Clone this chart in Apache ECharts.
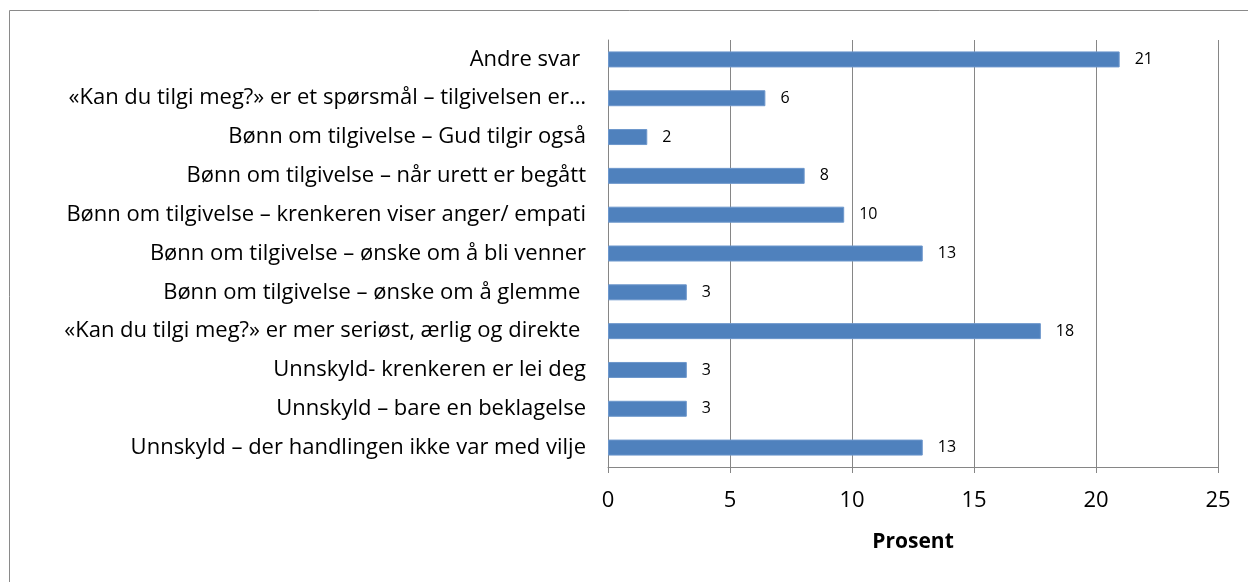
<!DOCTYPE html>
<html>
<head>
<meta charset="utf-8">
<script src="https://cdn.jsdelivr.net/npm/echarts@6/dist/echarts.min.js"></script>
<style>
  html, body { margin: 0; padding: 0; background: #fff; }
  #chart { width: 1248px; height: 582px; }
</style>
</head>
<body>
<div id="chart"></div>
<script>
// svarkategorier, ovenfra og ned
var categories = [
  'Andre svar ',
  '«Kan du tilgi meg?» er et spørsmål – tilgivelsen er…',
  'Bønn om tilgivelse – Gud tilgir også',
  'Bønn om tilgivelse – når urett er begått',
  'Bønn om tilgivelse – krenkeren viser anger/ empati',
  'Bønn om tilgivelse – ønske om å bli venner',
  'Bønn om tilgivelse – ønske om å glemme ',
  '«Kan du tilgi meg?» er mer seriøst, ærlig og direkte ',
  'Unnskyld- krenkeren er lei deg',
  'Unnskyld – bare en beklagelse',
  'Unnskyld – der handlingen ikke var med vilje'
];
// prosent (lest av bildet)
var prosent = [20.97, 6.45, 1.61, 8.06, 9.68, 12.9, 3.23, 17.74, 3.23, 3.23, 12.9];
var xTicks = [0, 25, 5]; // min, max, intervall

var chart = echarts.init(document.getElementById('chart'));
var font = '"Open Sans", "Noto Sans", sans-serif';

chart.setOption({
  animation: false,
  textStyle: { fontFamily: font },
  graphic: [{
    type: 'rect',
    shape: { x: 9.5, y: 10.5, width: 1245, height: 580 },
    style: { fill: 'none', stroke: '#8a8a8a', lineWidth: 1 }
  }],
  grid: { left: 608, right: 30, top: 40, bottom: 115, containLabel: false },
  xAxis: {
    type: 'value',
    min: xTicks[0],
    max: xTicks[1],
    interval: xTicks[2],
    name: 'Prosent',
    nameLocation: 'middle',
    nameGap: 65,
    nameTextStyle: { fontFamily: font, fontSize: 21, fontWeight: 'bold', color: '#000' },
    axisLine: { show: true, lineStyle: { color: '#868686' } },
    axisTick: { show: true, length: 6, lineStyle: { color: '#868686' } },
    axisLabel: { fontFamily: font, fontSize: 22, color: '#000', margin: 23 },
    splitLine: { show: true, lineStyle: { color: '#868686' } }
  },
  yAxis: {
    type: 'category',
    inverse: true,
    data: categories,
    axisLine: { show: true, lineStyle: { color: '#868686' } },
    axisTick: { show: false },
    axisLabel: { fontFamily: font, fontSize: 22, color: '#000', margin: 22 }
  },
  series: [{
    type: 'bar',
    data: prosent,
    barWidth: 16,
    itemStyle: { color: '#4F81BD', borderColor: '#6d97cc', borderWidth: 1 },
    label: {
      show: true,
      position: 'right',
      distance: 15,
      fontFamily: font,
      fontSize: 16,
      color: '#000',
      formatter: function (p) { return Math.round(p.value); }
    }
  }]
});
</script>
</body>
</html>
